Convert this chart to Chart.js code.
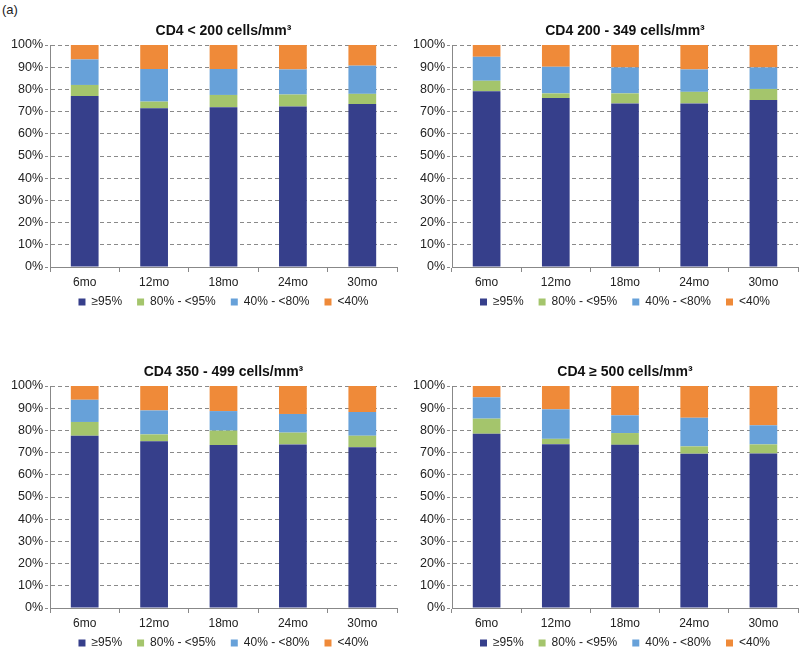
<!DOCTYPE html>
<html>
<head>
<meta charset="utf-8">
<script src="https://cdn.jsdelivr.net/npm/chart.js@4"></script>
<style>
  body { margin: 0; width: 800px; height: 650px; overflow: hidden; background: #fff; font-family: "Liberation Sans", Arial, sans-serif; }
  .tag { position: absolute; left: 2px; top: 2px; font-size: 13px; color: #222; }
  .box { position: absolute; width: 400px; height: 335px; }
</style>
</head>
<body>
<div class="tag">(a)</div>
<div class="box" style="left:0;top:0"><canvas id="c1"></canvas></div>
<div class="box" style="left:400px;top:0"><canvas id="c2"></canvas></div>
<div class="box" style="left:0;top:341px"><canvas id="c3"></canvas></div>
<div class="box" style="left:400px;top:341px"><canvas id="c4"></canvas></div>
<script>
const months = ['6mo', '12mo', '18mo', '24mo', '30mo'];
const bands = ['≥95%', '80% - <95%', '40% - <80%', '<40%'];
const colors = ['#363f8b', '#a4c56c', '#67a1d9', '#ef8a39'];
const titles = ['CD4 < 200 cells/mm³', 'CD4 200 - 349 cells/mm³', 'CD4 350 - 499 cells/mm³', 'CD4 ≥ 500 cells/mm³'];

// one row per band (≥95, 80-<95, 40-<80, <40), values in % per month
const cd4Under200 = [
  [77, 71.5, 72, 72.3, 73.4],
  [5, 3, 5.5, 5.4, 4.6],
  [11.5, 14.7, 11.7, 11.3, 12.7],
  [6.5, 10.8, 10.8, 11, 9.3]
];
const cd4From200 = [
  [79.2, 76.1, 73.7, 73.7, 75.2],
  [4.7, 2.1, 4.5, 5.2, 5],
  [10.8, 12, 11.7, 10.1, 9.7],
  [5.3, 9.8, 10.1, 11, 10.1]
];
const cd4From350 = [
  [77.6, 75.1, 73.4, 73.7, 72.4],
  [6.2, 3.1, 6.5, 5.3, 5.2],
  [10, 10.8, 8.8, 8.4, 10.7],
  [6.2, 11, 11.3, 12.6, 11.7]
];
const cd4Over500 = [
  [78.5, 73.8, 73.5, 69.5, 69.6],
  [6.8, 2.4, 5.3, 3.3, 4.1],
  [9.6, 13.3, 8, 12.9, 8.6],
  [5.1, 10.5, 13.2, 14.3, 17.7]
];
const panels = [cd4Under200, cd4From200, cd4From350, cd4Over500];

const font = 'Liberation Sans, Arial, sans-serif';

// pull the legend up close under the month labels
const legendUp = {
  id: 'legendUp',
  afterLayout(chart) {
    const lg = chart.legend;
    const dy = lg.top - (chart.chartArea.bottom + 14);
    lg.top -= dy;
    lg.bottom -= dy;
  }
};

function makeChart(id, title, rows, yWidth, padRight) {
  new Chart(document.getElementById(id), {
    type: 'bar',
    data: {
      labels: months,
      datasets: rows.map((vals, i) => ({
        label: bands[i],
        data: vals,
        backgroundColor: colors[i],
        barPercentage: 0.4,
        categoryPercentage: 1
      }))
    },
    plugins: [legendUp],
    options: {
      responsive: true,
      maintainAspectRatio: false,
      animation: false,
      layout: { padding: { left: 0, right: padRight, top: 0, bottom: 0 } },
      plugins: {
        title: {
          display: true,
          text: title,
          fullSize: false,
          color: '#111',
          font: { family: font, size: 14, weight: 'bold' },
          padding: { top: 22.6, bottom: 5.6 }
        },
        legend: {
          position: 'bottom',
          fullSize: false,
          labels: {
            color: '#222',
            boxWidth: 7,
            boxHeight: 7,
            padding: 15,
            font: { family: font, size: 12 }
          }
        },
        tooltip: { enabled: false }
      },
      scales: {
        x: {
          stacked: true,
          grid: { drawOnChartArea: false, tickLength: 5, color: '#888' },
          border: { color: '#888' },
          ticks: { color: '#222', padding: 3, font: { family: font, size: 12 } },
          afterFit: (s) => { s.height = 31; }
        },
        y: {
          stacked: true,
          min: 0,
          max: 100,
          ticks: { stepSize: 10, color: '#222', padding: 2, font: { family: font, size: 12.5 }, callback: (v) => v + '%' },
          grid: { color: '#8a8a8a', tickLength: 5, tickBorderDash: [3, 2] },
          border: { color: '#888', dash: [4, 3] },
          afterFit: (s) => { s.width = yWidth; }
        }
      }
    }
  });
}

makeChart('c1', titles[0], panels[0], 50, 3);
makeChart('c2', titles[1], panels[1], 52, 2);
makeChart('c3', titles[2], panels[2], 50, 3);
makeChart('c4', titles[3], panels[3], 52, 2);
</script>
</body>
</html>
